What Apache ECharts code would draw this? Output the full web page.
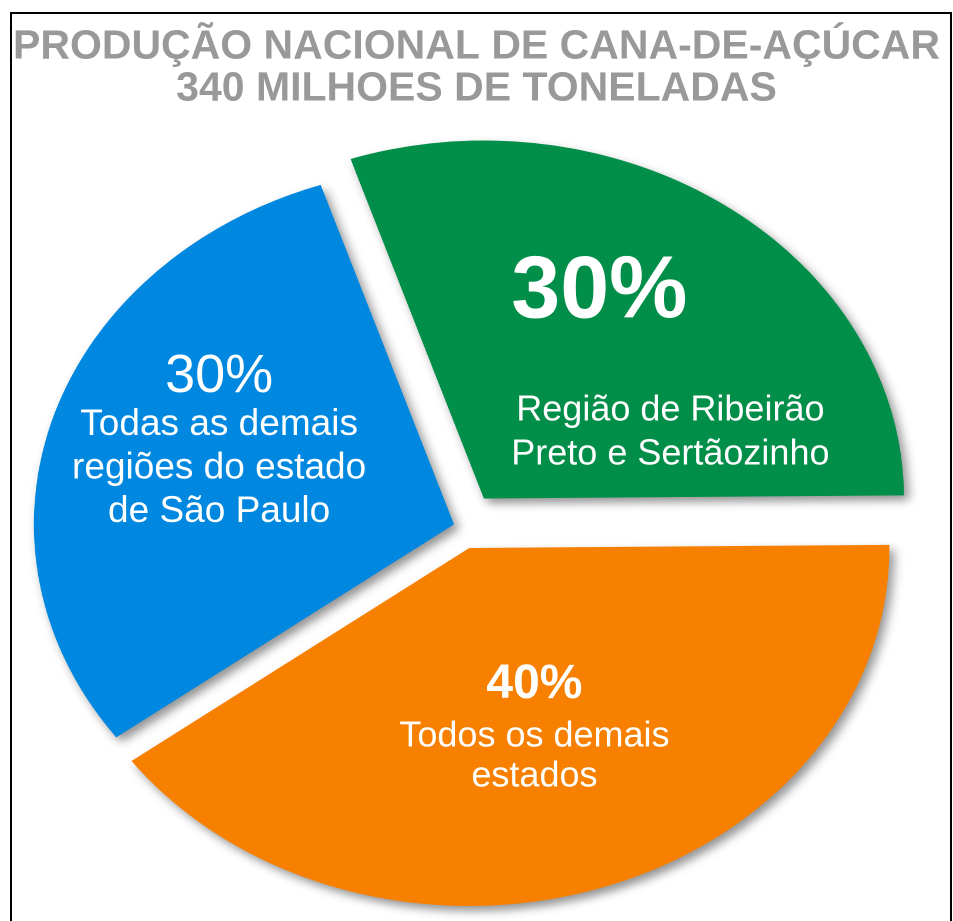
<!DOCTYPE html>
<html>
<head>
<meta charset="utf-8">
<title>Produção nacional de cana-de-açúcar</title>
<script src="https://cdn.jsdelivr.net/npm/echarts@6.0.0/dist/echarts.min.js"></script>
<style>
  html, body { margin: 0; padding: 0; background: #fff; overflow: hidden; }
  /* o gráfico original é uma pizza achatada: só as fatias são esticadas na horizontal */
  #chart { position: absolute; left: 0; top: 0; width: 812px; height: 921px; transform-origin: 0 0; transform: scaleX(1.1736); }
  /* textos por cima, sem esticar */
  #labels { position: absolute; left: 0; top: 0; width: 953px; height: 921px; }
  /* moldura preta (sem linha de baixo) */
  #frame { position: absolute; left: 10px; top: 12px; width: 942px; height: 960px; border: 2px solid #000; box-sizing: border-box; }
</style>
</head>
<body>
<div id="chart"></div>
<div id="labels"></div>
<div id="frame"></div>
<script>
// dados da pizza
var sliceNames = ['Região de Ribeirão Preto e Sertãozinho', 'Todos os demais estados', 'Todas as demais regiões do estado de São Paulo'];
var sliceValues = [30, 40, 30];
var pctLabels = ['30%', '40%', '30%'];
var descLines = [
  ['Região de Ribeirão', 'Preto e Sertãozinho'],
  ['Todos os demais', 'estados'],
  ['Todas as demais', 'regiões do estado', 'de São Paulo']
];
var titleText = 'PRODUÇÃO NACIONAL DE CANA-DE-AÇÚCAR\n340 MILHOES DE TONELADAS';

// estilo
var sliceColors = ['#008E48', '#F78000', '#0088E0'];
var stretch = 1.1736;
var pieCenter = [460.7, 526.2]; // em pixels da tela
var pieRadius = 358;
var startAngle = 108.5;
var explode = [34, 23, 6]; // deslocamento de cada fatia
var labelShift = [[104, -17], [16, 26], [-68, -29]];
var bigStyle = [
  { fontSize: 88, fontWeight: 'bold', lineHeight: 96, align: 'left' },
  { fontSize: 48, fontWeight: 'bold', lineHeight: 64, align: 'center' },
  { fontSize: 54, fontWeight: 'normal', lineHeight: 52, align: 'center' }
];
var textStyle = [
  { fontSize: 36, lineHeight: 44 },
  { fontSize: 36, lineHeight: 40 },
  { fontSize: 37, lineHeight: 43.5 }
];
var gapHeight = [47.5, 0, 0];
var font = "'Liberation Sans', Arial, sans-serif";

// fatias (div esticada)
var total = sliceValues.reduce(function(a, b) { return a + b }, 0);
var acc = 0;
var pieSeries = sliceValues.map(function(v, i) {
  // ângulo do meio da fatia, no sentido horário a partir do topo
  var mid = (90 - startAngle + (acc + v / 2) / total * 360) * Math.PI / 180;
  acc += v;
  var center = [pieCenter[0] / stretch + explode[i] * Math.sin(mid), pieCenter[1] - explode[i] * Math.cos(mid)];
  return {
    type: 'pie',
    center: center,
    radius: pieRadius,
    startAngle: startAngle,
    clockwise: true,
    silent: true,
    animation: false,
    emphasis: { disabled: true },
    label: { show: false },
    labelLine: { show: false },
    data: sliceValues.map(function(val, j) {
      var on = j === i;
      return {
        name: sliceNames[j],
        value: val,
        itemStyle: on ? {
          color: sliceColors[j], borderWidth: 0,
          shadowBlur: 9, shadowOffsetX: 4, shadowOffsetY: 5, shadowColor: 'rgba(0,0,0,0.42)'
        } : { color: 'rgba(0,0,0,0)', borderWidth: 0 }
      }
    })
  }
});

var pieChart = echarts.init(document.getElementById('chart'), null, { renderer: 'canvas', devicePixelRatio: 2 });
pieChart.setOption({
  backgroundColor: '#fff',
  series: pieSeries
});

// textos (título e rótulos das fatias)
var rich = {};
var fmts = sliceValues.map(function(v, i) {
  rich['big' + i] = Object.assign({ color: '#fff', fontFamily: font }, bigStyle[i]);
  rich['t' + i] = { color: '#fff', fontFamily: font, fontSize: textStyle[i].fontSize, lineHeight: textStyle[i].lineHeight, align: 'center' };
  rich['gap' + i] = { fontSize: 8, lineHeight: gapHeight[i] };
  var s = '{big' + i + '|' + pctLabels[i] + '}';
  if (gapHeight[i] > 0) s += '\n{gap' + i + '| }';
  descLines[i].forEach(function(line) { s += '\n{t' + i + '|' + line + '}' });
  return s;
});

var labelChart = echarts.init(document.getElementById('labels'), null, { renderer: 'canvas', devicePixelRatio: 2 });
labelChart.setOption({
  title: {
    text: titleText,
    left: 'center',
    top: 26,
    padding: 0,
    textStyle: {
      color: '#999999',
      fontFamily: font,
      fontWeight: 'bold',
      fontSize: 41,
      lineHeight: 42
    }
  },
  series: [{
    type: 'pie',
    center: pieCenter,
    radius: pieRadius,
    startAngle: startAngle,
    clockwise: true,
    silent: true,
    animation: false,
    avoidLabelOverlap: false,
    emphasis: { disabled: true },
    itemStyle: { color: 'rgba(0,0,0,0)', borderWidth: 0 },
    labelLine: { show: false },
    label: {
      show: true,
      position: 'inside',
      color: '#fff',
      formatter: function(p) { return fmts[p.dataIndex] },
      rich: rich
    },
    labelLayout: function(p) {
      return { dx: labelShift[p.dataIndex][0], dy: labelShift[p.dataIndex][1] };
    },
    data: sliceValues.map(function(v, i) {
      return { name: sliceNames[i], value: v };
    })
  }]
});
</script>
</body>
</html>
